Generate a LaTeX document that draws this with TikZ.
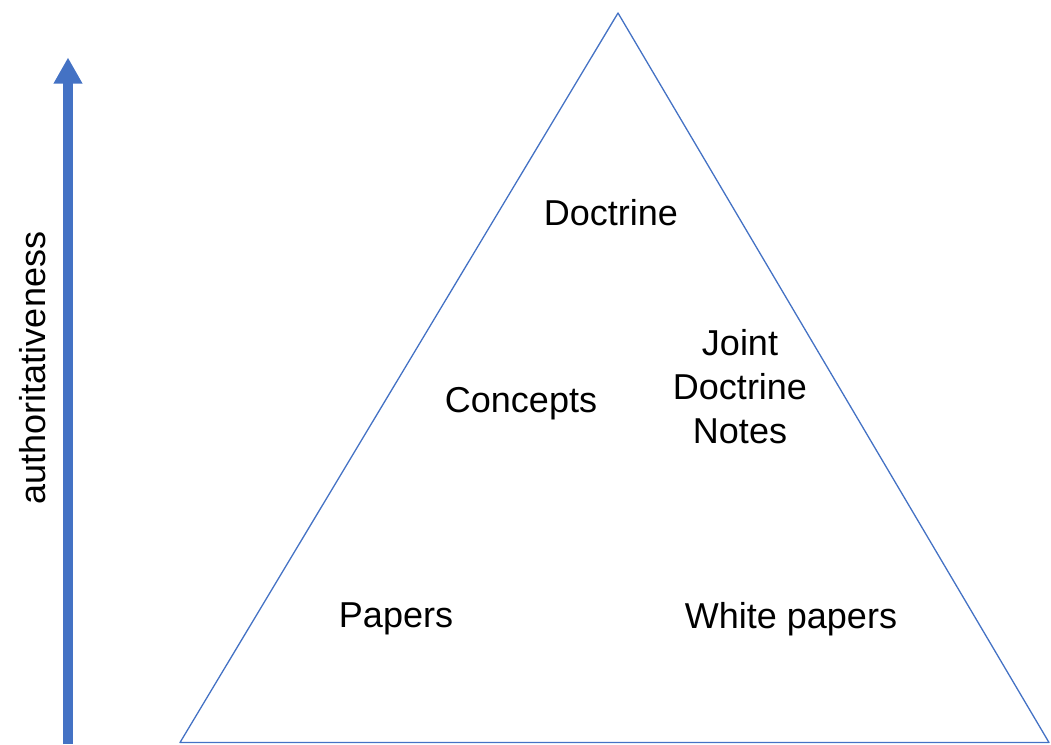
\documentclass[tikz,border=0pt]{standalone}
\usepackage{fontspec}
\setmainfont{Liberation Sans}
\usetikzlibrary{arrows.meta}
\definecolor{axisblue}{HTML}{4472C4}
\begin{document}
\begin{tikzpicture}[x=1pt,y=-1pt,
  lbl/.style={font=\fontsize{36}{44}\selectfont, inner sep=0pt, align=center, text=black},
  edge/.style={draw=axisblue, line width=1.3pt, line join=round}]
\useasboundingbox (0,0) rectangle (1051,744);
% pyramid outline
\coordinate (apex) at (618,13);
\coordinate (bl) at (180,742.5);
\coordinate (br) at (1049,742.5);
\draw[edge] (bl) -- (apex) -- (br) -- cycle;
% authority axis
\coordinate (axbot) at (68,744);
\coordinate (axtop) at (68,57.5);
\draw[draw=axisblue, line width=10pt, -{Triangle[length=26pt,width=27pt]}] (axbot) -- (axtop);
\node[lbl, rotate=90] (axlabel) at (33,368) {authoritativeness};
% pyramid labels
\node[lbl] (doctrine) at (611,213) {Doctrine};
\node[lbl] (concepts) at (521,404) {Concepts};
\node[lbl] (jdn) at (740,387) {Joint\\Doctrine\\Notes};
\node[lbl] (papers) at (396,619) {Papers};
\node[lbl] (white) at (791,619) {White papers};
\end{tikzpicture}
\end{document}
